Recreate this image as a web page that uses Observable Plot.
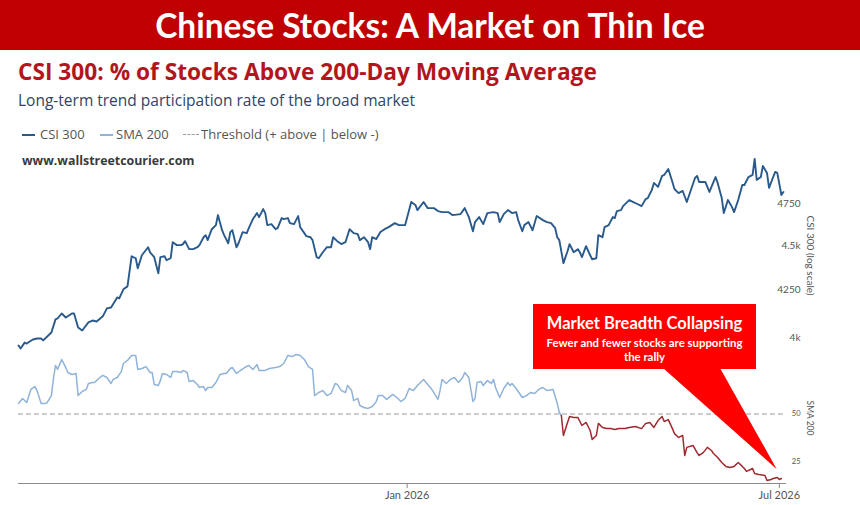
<!DOCTYPE html>
<html><head><meta charset="utf-8">
<script src="https://cdn.jsdelivr.net/npm/d3@7"></script>
<script src="https://cdn.jsdelivr.net/npm/@observablehq/plot@0.6"></script>
<style>
html,body{margin:0;padding:0;background:#fff;}
#wrap{position:relative;width:860px;height:505px;overflow:hidden;font-family:"Open Sans",sans-serif;background:#fff;}
#banner{position:absolute;left:0;top:0;width:860px;height:50px;background:#c00000;color:#fff;font-family:Lato,sans-serif;font-weight:700;font-size:33.5px;line-height:50px;text-align:center;}
.t{position:absolute;white-space:nowrap;}
#sub{left:18px;top:57px;font-weight:700;font-size:22.7px;line-height:30px;color:#b3151c;}
#desc{left:18px;top:90px;font-size:15.5px;line-height:21px;color:#2f4468;}
.leg{top:125px;font-size:13px;line-height:18px;color:#555;}
.sw{position:absolute;top:134px;height:0;width:13px;}
#www{left:22px;top:152px;font-weight:700;font-size:12.4px;line-height:18px;color:#3a3a3a;}
.plot{position:absolute;left:0;}
#callout{position:absolute;left:0;top:0;}
</style>
</head><body>
<div id="wrap">
  <div id="banner">Chinese Stocks: A Market on Thin Ice</div>
  <div class="t" id="sub">CSI 300: % of Stocks Above 200-Day Moving Average</div>
  <div class="t" id="desc">Long-term trend participation rate of the broad market</div>
  <div class="sw" style="left:22px;border-top:2px solid #2a5a8c"></div>
  <div class="t leg" style="left:40px">CSI 300</div>
  <div class="sw" style="left:100px;border-top:2px solid #8fb3d9"></div>
  <div class="t leg" style="left:116px">SMA 200</div>
  <div class="sw" style="left:183px;width:16px;border-top:1.5px dashed #999"></div>
  <div class="t leg" style="left:201px">Threshold (+ above | below -)</div>
  <div class="t" id="www">www.wallstreetcourier.com</div>
</div>
<script>
// ---------- data ----------
const csiDates = ["2025-06-26","2025-06-27","2025-06-29","2025-06-30","2025-07-03","2025-07-05","2025-07-07","2025-07-08","2025-07-12","2025-07-14","2025-07-15","2025-07-17","2025-07-19","2025-07-22","2025-07-23","2025-07-25","2025-07-27","2025-07-30","2025-08-01","2025-08-03","2025-08-06","2025-08-08","2025-08-10","2025-08-13","2025-08-14","2025-08-16","2025-08-18","2025-08-20","2025-08-22","2025-08-23","2025-08-25","2025-08-28","2025-08-29","2025-08-31","2025-09-02","2025-09-03","2025-09-05","2025-09-06","2025-09-08","2025-09-09","2025-09-11","2025-09-13","2025-09-14","2025-09-15","2025-09-17","2025-09-19","2025-09-21","2025-09-22","2025-09-24","2025-09-25","2025-09-26","2025-09-28","2025-09-30","2025-10-01","2025-10-03","2025-10-04","2025-10-06","2025-10-07","2025-10-08","2025-10-10","2025-10-11","2025-10-13","2025-10-15","2025-10-16","2025-10-18","2025-10-20","2025-10-21","2025-10-23","2025-10-24","2025-10-25","2025-10-27","2025-10-29","2025-10-30","2025-11-01","2025-11-02","2025-11-04","2025-11-05","2025-11-07","2025-11-09","2025-11-10","2025-11-12","2025-11-13","2025-11-15","2025-11-16","2025-11-18","2025-11-19","2025-11-21","2025-11-23","2025-11-25","2025-11-26","2025-11-28","2025-11-30","2025-12-02","2025-12-04","2025-12-06","2025-12-08","2025-12-09","2025-12-11","2025-12-13","2025-12-14","2025-12-15","2025-12-17","2025-12-19","2025-12-21","2025-12-23","2025-12-26","2025-12-28","2025-12-31","2026-01-03","2026-01-05","2026-01-06","2026-01-09","2026-01-11","2026-01-14","2026-01-16","2026-01-18","2026-01-21","2026-01-23","2026-01-27","2026-01-29","2026-01-31","2026-02-02","2026-02-03","2026-02-05","2026-02-07","2026-02-09","2026-02-12","2026-02-14","2026-02-15","2026-02-17","2026-02-19","2026-02-21","2026-02-23","2026-02-24","2026-02-26","2026-02-27","2026-03-01","2026-03-03","2026-03-05","2026-03-08","2026-03-10","2026-03-12","2026-03-14","2026-03-15","2026-03-16","2026-03-18","2026-03-20","2026-03-21","2026-03-23","2026-03-25","2026-03-26","2026-03-27","2026-03-29","2026-03-31","2026-04-01","2026-04-03","2026-04-04","2026-04-06","2026-04-07","2026-04-09","2026-04-11","2026-04-12","2026-04-13","2026-04-15","2026-04-16","2026-04-19","2026-04-21","2026-04-23","2026-04-25","2026-04-27","2026-04-28","2026-04-30","2026-05-01","2026-05-03","2026-05-05","2026-05-06","2026-05-08","2026-05-10","2026-05-11","2026-05-13","2026-05-15","2026-05-17","2026-05-19","2026-05-21","2026-05-22","2026-05-23","2026-05-26","2026-05-28","2026-05-30","2026-05-31","2026-06-01","2026-06-03","2026-06-04","2026-06-06","2026-06-08","2026-06-09","2026-06-11","2026-06-13","2026-06-14","2026-06-16","2026-06-18","2026-06-19","2026-06-20","2026-06-22","2026-06-23","2026-06-25","2026-06-26","2026-06-28","2026-06-29","2026-06-30","2026-07-02","2026-07-03"];
const csiValues = [3959,3944,3974,3969,3990,3995,3995,3985,4026,4094,4099,4125,4104,4125,4125,4052,4036,4078,4088,4083,4110,4152,4157,4211,4206,4255,4271,4439,4428,4371,4445,4491,4462,4434,4343,4434,4439,4417,4428,4520,4503,4503,4509,4526,4480,4480,4491,4503,4549,4561,4532,4596,4620,4680,4590,4561,4514,4579,4590,4491,4514,4579,4573,4602,4656,4692,4668,4716,4692,4620,4626,4596,4602,4662,4656,4662,4632,4626,4674,4608,4573,4555,4549,4532,4434,4428,4462,4491,4491,4549,4526,4509,4520,4596,4573,4567,4532,4549,4520,4480,4549,4538,4579,4596,4608,4632,4620,4620,4759,4741,4710,4759,4722,4722,4704,4698,4698,4680,4686,4722,4668,4584,4638,4668,4626,4692,4698,4692,4638,4686,4710,4692,4698,4650,4584,4620,4638,4590,4674,4650,4638,4632,4602,4549,4532,4400,4468,4509,4462,4480,4462,4434,4497,4445,4422,4428,4561,4549,4608,4620,4668,4662,4704,4710,4734,4771,4759,4747,4734,4777,4783,4833,4877,4852,4921,4927,4965,4883,4839,4814,4827,4759,4833,4908,4921,4883,4883,4821,4883,4914,4877,4783,4692,4771,4728,4698,4771,4864,4864,4914,4927,5030,4896,4914,4984,4940,4846,4914,4946,4940,4802,4821];

const smaDates = ["2025-06-26","2025-06-28","2025-06-30","2025-07-02","2025-07-04","2025-07-05","2025-07-07","2025-07-09","2025-07-10","2025-07-12","2025-07-13","2025-07-14","2025-07-15","2025-07-17","2025-07-19","2025-07-20","2025-07-22","2025-07-24","2025-07-25","2025-07-27","2025-07-29","2025-07-30","2025-08-01","2025-08-02","2025-08-04","2025-08-06","2025-08-08","2025-08-10","2025-08-11","2025-08-13","2025-08-15","2025-08-16","2025-08-18","2025-08-20","2025-08-22","2025-08-23","2025-08-25","2025-08-27","2025-08-29","2025-08-30","2025-08-31","2025-09-02","2025-09-03","2025-09-04","2025-09-06","2025-09-08","2025-09-09","2025-09-11","2025-09-13","2025-09-14","2025-09-16","2025-09-17","2025-09-19","2025-09-21","2025-09-22","2025-09-24","2025-09-25","2025-09-26","2025-09-28","2025-09-30","2025-10-02","2025-10-04","2025-10-05","2025-10-07","2025-10-08","2025-10-10","2025-10-12","2025-10-14","2025-10-16","2025-10-18","2025-10-20","2025-10-21","2025-10-24","2025-10-26","2025-10-29","2025-10-31","2025-11-02","2025-11-04","2025-11-06","2025-11-08","2025-11-10","2025-11-12","2025-11-14","2025-11-16","2025-11-17","2025-11-19","2025-11-21","2025-11-23","2025-11-25","2025-11-27","2025-11-28","2025-11-30","2025-12-02","2025-12-03","2025-12-05","2025-12-06","2025-12-08","2025-12-09","2025-12-11","2025-12-13","2025-12-15","2025-12-17","2025-12-18","2025-12-20","2025-12-22","2025-12-25","2025-12-27","2025-12-29","2025-12-31","2026-01-02","2026-01-04","2026-01-06","2026-01-09","2026-01-11","2026-01-13","2026-01-16","2026-01-17","2026-01-18","2026-01-20","2026-01-22","2026-01-24","2026-01-26","2026-01-28","2026-01-29","2026-01-31","2026-02-02","2026-02-03","2026-02-04","2026-02-06","2026-02-07","2026-02-09","2026-02-11","2026-02-12","2026-02-13","2026-02-15","2026-02-17","2026-02-19","2026-02-20","2026-02-21","2026-02-23","2026-02-26","2026-02-28","2026-03-02","2026-03-04","2026-03-06","2026-03-08","2026-03-10","2026-03-13","2026-03-15","2026-03-16","2026-03-17","2026-03-18","2026-03-20","2026-03-21","2026-03-23","2026-03-24","2026-03-25","2026-03-27","2026-03-29","2026-03-31","2026-04-01","2026-04-03","2026-04-04","2026-04-06","2026-04-08","2026-04-10","2026-04-12","2026-04-14","2026-04-17","2026-04-19","2026-04-22","2026-04-25","2026-04-27","2026-04-29","2026-05-01","2026-05-03","2026-05-05","2026-05-06","2026-05-08","2026-05-10","2026-05-11","2026-05-13","2026-05-15","2026-05-16","2026-05-17","2026-05-20","2026-05-22","2026-05-23","2026-05-25","2026-05-27","2026-05-29","2026-05-30","2026-06-01","2026-06-03","2026-06-05","2026-06-07","2026-06-09","2026-06-11","2026-06-13","2026-06-14","2026-06-15","2026-06-18","2026-06-19","2026-06-21","2026-06-24","2026-06-25","2026-06-27","2026-06-28","2026-06-30","2026-07-01","2026-07-02"];
const smaValues = [55.5,58.1,56.0,62.8,64.3,62.2,55.5,55.5,56.0,59.6,68.5,75.3,73.2,78.4,74.2,71.6,70.6,71.1,59.6,61.7,62.8,65.9,66.4,66.4,68.5,70.1,69.0,65.9,68.0,69.0,72.1,76.3,77.9,80.5,80.5,73.2,73.7,74.7,71.6,71.6,65.4,64.8,67.4,71.1,70.6,69.0,72.1,72.1,71.6,72.7,71.6,66.9,67.4,65.4,63.8,64.3,62.2,63.8,63.8,66.4,70.6,71.1,71.1,73.7,74.2,71.1,72.7,74.2,75.3,73.2,75.8,72.7,72.7,73.7,74.2,74.7,76.3,80.5,79.9,81.0,80.5,78.4,74.7,73.2,59.6,61.2,62.2,59.6,60.7,65.9,65.4,62.2,61.2,64.8,62.2,57.0,58.1,54.4,53.4,52.9,53.9,56.5,59.6,59.6,57.6,60.2,58.6,56.5,58.1,63.3,62.2,64.8,68.0,65.4,62.8,57.6,62.2,68.0,65.9,68.0,69.0,66.4,69.0,71.6,69.0,56.5,58.1,66.4,66.9,64.8,67.4,65.9,68.0,63.8,58.6,63.3,66.4,64.8,65.9,63.3,58.6,59.6,61.2,60.7,62.8,63.8,62.2,62.8,55.5,50.8,49.2,38.8,45.6,48.7,48.2,48.2,48.2,44.0,45.6,41.4,36.7,38.8,45.1,43.0,42.4,42.4,41.9,42.4,42.4,43.0,43.5,42.4,45.1,45.6,43.0,46.6,48.7,46.1,47.1,42.4,39.8,37.8,38.8,28.4,32.6,33.6,29.9,28.4,29.9,32.6,31.0,29.4,27.3,24.7,22.7,22.1,22.7,24.7,22.7,21.6,20.1,21.6,19.0,18.5,18.0,15.4,15.9,16.4,16.9,15.9,16.4];

const threshold = 50;
const csiTicks = [4000, 4250, 4500, 4750];
const csiTickLabels = ["4k", "4250", "4.5k", "4750"];
const smaTicks = [25, 50];
const smaTickLabels = ["25", "50"];
const xTicks = ["2026-01-01", "2026-07-01"];
const xTickLabels = ["Jan 2026", "Jul 2026"];
const xDomain = ["2025-06-26", "2026-07-04"];
const calloutDate = "2026-06-30";
const calloutValue = 21;

// ---------- build ----------
const wrap = document.getElementById("wrap");
const csi = csiDates.map((d, i) => ({date: new Date(d), value: csiValues[i]}));
const sma = smaDates.map((d, i) => ({date: new Date(d), value: smaValues[i]}));
const cut = sma.findIndex(d => d.value < threshold);
const smaAbove = sma.slice(0, cut + 1);
const smaBelow = sma.slice(cut);
const xDom = xDomain.map(d => new Date(d));

const TOP = 140, BOT = 340;
const common = {width: 860, marginLeft: 18, marginRight: 75,
  style: {background: "transparent", overflow: "visible", fontFamily: "Lato, sans-serif"}};

const topPlot = Plot.plot({
  ...common, height: 220, marginTop: 0, marginBottom: 0,
  x: {type: "utc", domain: xDom, axis: null},
  y: {type: "log", domain: [4000, 4750], range: [337 - TOP, 203 - TOP], axis: null},
  marks: [
    Plot.axisY({anchor: "right", ticks: csiTicks, tickFormat: d => csiTickLabels[csiTicks.indexOf(d)],
      tickSize: 0, tickPadding: 0, textAnchor: "end", dx: 15, fontSize: 10, fill: "#555", label: null}),
    Plot.line(csi, {x: "date", y: "value", stroke: "#2a5a8c", strokeWidth: 1.9}),
    Plot.text(["CSI 300 (log scale)"], {frameAnchor: "right", textAnchor: "middle", text: d => d, rotate: 90, dx: 25, dy: 5, fontSize: 10, fill: "#555"})
  ]
});
topPlot.classList.add("plot");
topPlot.style.top = TOP + "px";
wrap.appendChild(topPlot);

const botPlot = Plot.plot({
  ...common, height: 165, marginTop: 0, marginBottom: 22,
  x: {type: "utc", domain: xDom, axis: null},
  y: {domain: [25, 50], range: [461.5 - BOT, 413.5 - BOT], axis: null},
  marks: [
    Plot.frame({anchor: "bottom", stroke: "#8a8a8a"}),
    Plot.axisX({ticks: xTicks.map(d => new Date(d)), tickFormat: d => xTickLabels[xTicks.indexOf(d.toISOString().slice(0, 10))],
      tickSize: 5, tickPadding: 3, fontSize: 11, fill: "#555", stroke: "#8a8a8a", label: null}),
    Plot.axisY({anchor: "right", ticks: smaTicks, tickFormat: d => smaTickLabels[smaTicks.indexOf(d)],
      tickSize: 0, tickPadding: 0, textAnchor: "end", dx: 15, fontSize: 7.5, fill: "#555", label: null}),
    Plot.ruleY([threshold], {stroke: "#9a9a9a", strokeDasharray: "5,3", strokeWidth: 1}),
    Plot.line(smaAbove, {x: "date", y: "value", stroke: "#8fb3d9", strokeWidth: 1.5}),
    Plot.line(smaBelow, {x: "date", y: "value", stroke: "#9e2a2f", strokeWidth: 1.5}),
    Plot.text(["SMA 200"], {frameAnchor: "right", textAnchor: "middle", text: d => d, rotate: 90, dx: 24, dy: 6, fontSize: 8.5, fill: "#555"})
  ]
});
botPlot.classList.add("plot");
botPlot.style.top = BOT + "px";
wrap.appendChild(botPlot);

// ---------- callout ----------
const xs = botPlot.scale("x"), ys = botPlot.scale("y");
const tipX = xs.apply(new Date(calloutDate));
const tipY = BOT + ys.apply(calloutValue);
const box = {x: 533, y: 304, w: 223, h: 65};
const svg = d3.create("svg").attr("id", "callout").attr("width", 860).attr("height", 505);
svg.append("polygon").attr("fill", "#fe0000")
  .attr("points", [[663, box.y + box.h - 1], [720, box.y + box.h - 1], [tipX, tipY]].map(p => p.join(",")).join(" "));
svg.append("rect").attr("x", box.x).attr("y", box.y).attr("width", box.w).attr("height", box.h).attr("fill", "#fe0000");
const cx = box.x + box.w / 2;
svg.append("text").attr("x", cx).attr("y", 323).attr("text-anchor", "middle").attr("dominant-baseline", "central")
  .attr("fill", "#fff").attr("font-family", "Lato, sans-serif").attr("font-weight", 700).attr("font-size", 16.5)
  .text("Market Breadth Collapsing");
svg.append("text").attr("x", cx).attr("y", 342).attr("text-anchor", "middle").attr("dominant-baseline", "central")
  .attr("fill", "#fff").attr("font-family", "Lato, sans-serif").attr("font-weight", 700).attr("font-size", 11.4)
  .text("Fewer and fewer stocks are supporting");
svg.append("text").attr("x", cx).attr("y", 356).attr("text-anchor", "middle").attr("dominant-baseline", "central")
  .attr("fill", "#fff").attr("font-family", "Lato, sans-serif").attr("font-weight", 700).attr("font-size", 11.4)
  .text("the rally");
wrap.appendChild(svg.node());
</script>
</body></html>
